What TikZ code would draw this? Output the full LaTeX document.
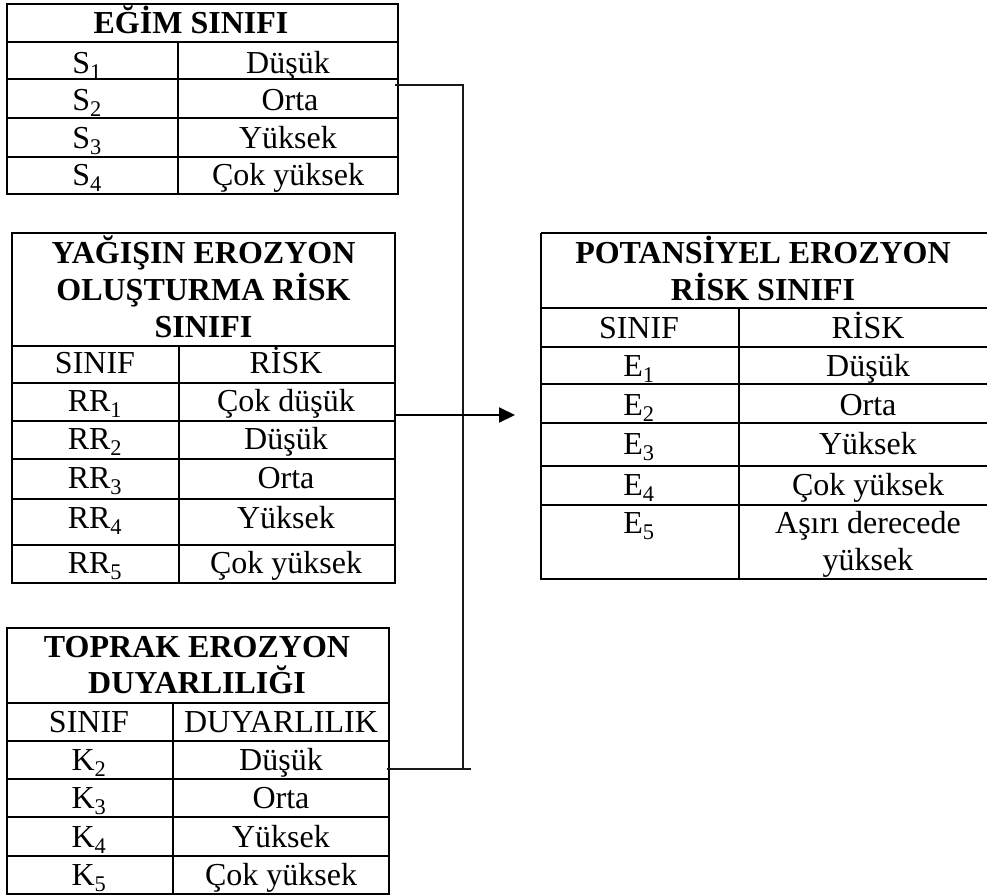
\documentclass[tikz,border=0pt]{standalone}
\usepackage{fontspec}
\setmainfont{Liberation Serif}
\usetikzlibrary{arrows.meta}
\newcommand\sbs[1]{\textsubscript{#1}}
\begin{document}
\begin{tikzpicture}[x=1pt,y=-1pt,
  tbl/.style={line width=2pt},
  conn/.style={line width=1.5pt, draw=black!90},
  txt/.style={anchor=base, inner sep=0pt, font=\fontsize{32}{36.7}\selectfont},
  ttl/.style={anchor=base, inner sep=0pt, font=\fontsize{32}{36.7}\selectfont\bfseries},
]
\useasboundingbox (0,0) rectangle (987,895);
\begin{scope}
\clip (0,0) rectangle (987,895);

% ---------- Table 1: EĞİM SINIFI ----------
\draw[tbl] (7,4) rectangle (398,194);
\foreach \yy in {42,79,118,157} \draw[tbl] (7,\yy) -- (398,\yy);
\draw[tbl] (178,42) -- (178,194);
\node[ttl] (t1) at (191,33) {EĞİM SINIFI};
\node[txt] (s1) at (87,73) {S\sbs{1}};
\node[txt] (s1r) at (288,73) {Düşük};
\node[txt] (s2) at (87,110) {S\sbs{2}};
\node[txt] (s2r) at (290,110) {Orta};
\node[txt] (s3) at (87,148) {S\sbs{3}};
\node[txt] (s3r) at (288,148) {Yüksek};
\node[txt] (s4) at (87,185) {S\sbs{4}};
\node[txt] (s4r) at (288,185) {Çok yüksek};

% ---------- Table 2: YAĞIŞIN EROZYON ... ----------
\draw[tbl] (12,233) rectangle (395,583);
\foreach \yy in {346,383,421,459,499,545} \draw[tbl] (12,\yy) -- (395,\yy);
\draw[tbl] (179,346) -- (179,583);
\node[ttl] (t2a) at (203.5,263) {YAĞIŞIN EROZYON};
\node[ttl] (t2b) at (203.5,300) {OLUŞTURMA RİSK};
\node[ttl] (t2c) at (203.5,337) {SINIFI};
\node[txt] (h2a) at (95,373) {SINIF};
\node[txt] (h2b) at (286,373) {RİSK};
\node[txt] (rr1) at (95,411) {RR\sbs{1}};
\node[txt] (rr1r) at (286,411) {Çok düşük};
\node[txt] (rr2) at (95,449) {RR\sbs{2}};
\node[txt] (rr2r) at (286,449) {Düşük};
\node[txt] (rr3) at (95,488) {RR\sbs{3}};
\node[txt] (rr3r) at (286,488) {Orta};
\node[txt] (rr4) at (95,528) {RR\sbs{4}};
\node[txt] (rr4r) at (286,528) {Yüksek};
\node[txt] (rr5) at (95,573) {RR\sbs{5}};
\node[txt] (rr5r) at (286,573) {Çok yüksek};

% ---------- Table 3: TOPRAK EROZYON DUYARLILIĞI ----------
\draw[tbl] (7,628) rectangle (389,894);
\foreach \yy in {703,741,779,817,856} \draw[tbl] (7,\yy) -- (389,\yy);
\draw[tbl] (173,703) -- (173,894);
\node[ttl] (t3a) at (197,657) {TOPRAK EROZYON};
\node[ttl] (t3b) at (197,693) {DUYARLILIĞI};
\node[txt] (h3a) at (89,732) {SINIF};
\node[txt] (h3b) at (281,732) {DUYARLILIK};
\node[txt] (k2) at (89,770) {K\sbs{2}};
\node[txt] (k2r) at (281,770) {Düşük};
\node[txt] (k3) at (89,808) {K\sbs{3}};
\node[txt] (k3r) at (281,808) {Orta};
\node[txt] (k4) at (89,847) {K\sbs{4}};
\node[txt] (k4r) at (281,847) {Yüksek};
\node[txt] (k5) at (89,885) {K\sbs{5}};
\node[txt] (k5r) at (281,885) {Çok yüksek};

% ---------- Table 4: POTANSİYEL EROZYON RİSK SINIFI ----------
\draw[tbl] (541,233) -- (995,233) (541,233) -- (541,579) -- (995,579);
\foreach \yy in {308,347,384,423,466,505} \draw[tbl] (541,\yy) -- (995,\yy);
\draw[tbl] (739,308) -- (739,579);
\node[ttl] (t4a) at (763,263) {POTANSİYEL EROZYON};
\node[ttl] (t4b) at (763,300) {RİSK SINIFI};
\node[txt] (h4a) at (639,338) {SINIF};
\node[txt] (h4b) at (868,338) {RİSK};
\node[txt] (e1) at (639,376) {E\sbs{1}};
\node[txt] (e1r) at (868,376) {Düşük};
\node[txt] (e2) at (639,415) {E\sbs{2}};
\node[txt] (e2r) at (868,415) {Orta};
\node[txt] (e3) at (639,454) {E\sbs{3}};
\node[txt] (e3r) at (868,454) {Yüksek};
\node[txt] (e4) at (639,495) {E\sbs{4}};
\node[txt] (e4r) at (868,495) {Çok yüksek};
\node[txt] (e5) at (639,533) {E\sbs{5}};
\node[txt] (e5r) at (868,533) {Aşırı derecede};
\node[txt] (e5r2) at (868,570) {yüksek};

% ---------- connectors ----------
\coordinate (cS) at (395,85);
\coordinate (jTop) at (463,85);
\coordinate (jBot) at (463,769);
\coordinate (cK) at (387,769);
\coordinate (cKend) at (471,769);
\coordinate (cR) at (395,415);
\coordinate (cE) at (515,415);
\draw[conn] (cS) -- (jTop) -- (jBot);
\draw[conn] (cK) -- (cKend);
\draw[line width=2pt,-{Triangle[length=16pt,width=15pt]}] (cR) -- (cE);
\end{scope}
\end{tikzpicture}
\end{document}
